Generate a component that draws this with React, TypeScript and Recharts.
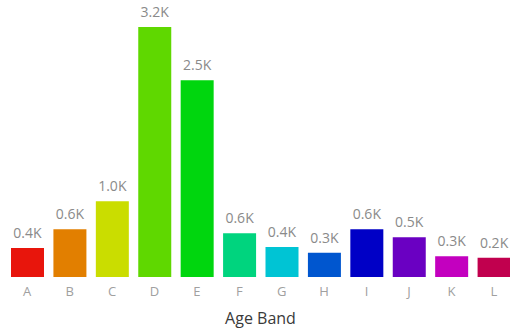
import { Bar, BarChart, Cell, LabelList, XAxis, YAxis } from "recharts";

const AGE_BANDS = ["A", "B", "C", "D", "E", "F", "G", "H", "I", "J", "K", "L"];
const COUNTS = [370, 610, 970, 3200, 2520, 560, 385, 310, 610, 510, 265, 245];
const BAND_COLORS = [
  "#e8150c",
  "#e27f00",
  "#cadd00",
  "#5fd800",
  "#00d60e",
  "#00d47e",
  "#00c4d4",
  "#0056cf",
  "#0000c6",
  "#6a00c2",
  "#c300bf",
  "#c1004e",
];

const data = AGE_BANDS.map((band, i) => ({ band, count: COUNTS[i] }));

const FONT = "'Open Sans', 'Noto Sans', sans-serif";

const formatK = (v: any) => `${(Number(v) / 1000).toFixed(1)}K`;

export default function App() {
  return (
    <div style={{ position: "absolute", left: 0, top: 0, width: 510, height: 332, overflow: "hidden", background: "#fff" }}>
      <BarChart
        width={510}
        height={332}
        data={data}
        margin={{ top: 27, right: -5, left: 6, bottom: 0 }}
        barSize={33}
      >
        <XAxis
          dataKey="band"
          axisLine={false}
          tickLine={false}
          height={55}
          tickMargin={4}
          tick={{ fontSize: 13, fill: "#a0a0a0", fontFamily: FONT }}
          label={{
            value: "Age Band",
            position: "insideBottom",
            offset: 8,
            fontSize: 16,
            fill: "#3a3a3a",
            fontFamily: FONT,
          }}
        />
        <YAxis hide domain={[0, 3200]} />
        <Bar dataKey="count" isAnimationActive={false}>
          {data.map((_d, i) => (
            <Cell key={`cell-${i}`} fill={BAND_COLORS[i]} />
          ))}
          <LabelList
            dataKey="count"
            position="top"
            offset={10}
            formatter={formatK}
            fontSize={14}
            fill="#8a8a8a"
            fontFamily={FONT}
          />
        </Bar>
      </BarChart>
    </div>
  );
}
